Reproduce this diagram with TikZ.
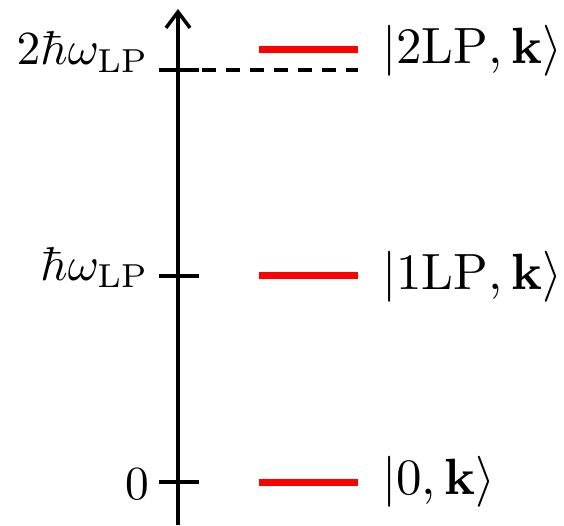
\documentclass[tikz,border=0pt]{standalone}
\usepackage{graphicx}
\usetikzlibrary{arrows.meta}
\newcommand{\lefttxt}[1]{\scalebox{4.75}{#1}}
\newcommand{\righttxt}[1]{\scalebox{5.1}{#1}}
\begin{document}
\begin{tikzpicture}[x=1pt,y=1pt,
  axisline/.style={line width=3.5pt,black},
  level/.style={line width=7pt,red},
  lab/.style={inner sep=0pt}]
\useasboundingbox (0,0) rectangle (564,525);
\coordinate (ab) at (178,0);
\coordinate (at) at (178,516);
\draw[axisline,-{Straight Barb[length=16pt,width=24pt,line width=3.5pt]}] (ab) -- (at);
% ticks
\coordinate (t2l) at (159,455); \coordinate (t2r) at (199,455);
\coordinate (t1l) at (159,249); \coordinate (t1r) at (199,249);
\coordinate (t0l) at (159,43);  \coordinate (t0r) at (199,43);
\draw[axisline] (t2l) -- (t2r);
\draw[axisline] (t1l) -- (t1r);
\draw[axisline] (t0l) -- (t0r);
% dashed
\coordinate (dl) at (178,455); \coordinate (dr) at (358,455);
\draw[line width=3.2pt,dash pattern=on 14pt off 10pt] (dl) -- (dr);
% levels
\coordinate (l2a) at (259,475); \coordinate (l2b) at (358,475);
\coordinate (l1a) at (259,249); \coordinate (l1b) at (358,249);
\coordinate (l0a) at (259,43);  \coordinate (l0b) at (358,43);
\draw[level] (l2a) -- (l2b);
\draw[level] (l1a) -- (l1b);
\draw[level] (l0a) -- (l0b);
% left labels
\node[lab,anchor=base east] (e2) at (149,460) {\lefttxt{$2\hbar\omega_{\mathrm{LP}}$}};
\node[lab,anchor=base east] (e1) at (149,245) {\lefttxt{$\hbar\omega_{\mathrm{LP}}$}};
\node[lab,anchor=base east] (e0) at (149,26) {\lefttxt{$0$}};
% right labels
\node[lab,anchor=base west] (k2) at (382,461) {\righttxt{$|2\mathrm{LP},\mathbf{k}\rangle$}};
\node[lab,anchor=base west] (k1) at (382,236) {\righttxt{$|1\mathrm{LP},\mathbf{k}\rangle$}};
\node[lab,anchor=base west] (k0) at (382,31) {\righttxt{$|0,\mathbf{k}\rangle$}};
\end{tikzpicture}
\end{document}
